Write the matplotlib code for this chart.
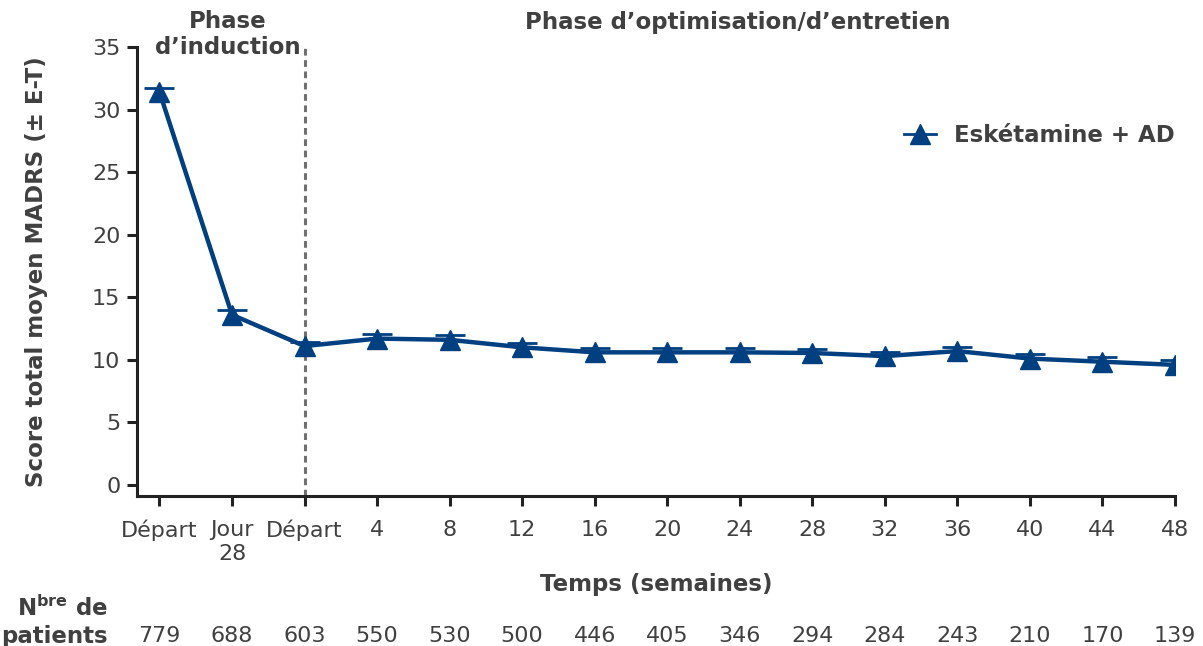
import matplotlib
matplotlib.use("Agg")
import matplotlib.pyplot as plt
import matplotlib.transforms as mtransforms
from matplotlib.lines import Line2D

plt.rcParams['font.family'] = ['DejaVu Sans']
plt.rcParams['mathtext.fontset'] = 'dejavusans'

categories = ["Départ", "Jour\n28", "Départ", "4", "8", "12", "16", "20", "24",
              "28", "32", "36", "40", "44", "48"]
mean_madrs = [31.4, 13.6, 11.1, 11.7, 11.6, 11.0, 10.6, 10.6, 10.6, 10.55,
              10.3, 10.7, 10.1, 9.85, 9.6]
se_madrs = [0.35, 0.4, 0.35, 0.4, 0.35, 0.35, 0.35, 0.35, 0.35, 0.35,
            0.35, 0.35, 0.35, 0.35, 0.35]
n_patients = ["779", "688", "603", "550", "530", "500", "446", "405", "346",
              "294", "284", "243", "210", "170", "139"]
yticks = [0, 5, 10, 15, 20, 25, 30, 35]

TXT = '#404040'
BLUE = '#004080'
FS = 16
FSB = 16.5

fig = plt.figure(figsize=(12.03, 6.46), dpi=100)
ax = fig.add_axes([137/1203, 1-496/646, (1175-137)/1203, (496-47)/646])

x = list(range(len(categories)))
lower = [0] * len(se_madrs)
eb = ax.errorbar(x, mean_madrs, yerr=[lower, se_madrs], color=BLUE, lw=3.2,
                 marker='^', markersize=15, capsize=10.5, capthick=2,
                 elinewidth=2, zorder=3)
caplines = eb[1]
if len(caplines) == 2:
    caplines[0].set_visible(False)

ax.set_xlim(-0.31, 14)
ax.set_ylim(-0.88, 35)
ax.set_yticks(yticks)
ax.set_xticks(x)
ax.set_xticklabels(categories, linespacing=1.3)
for s in ['top', 'right']:
    ax.spines[s].set_visible(False)
for s in ['left', 'bottom']:
    ax.spines[s].set_linewidth(2.2)
    ax.spines[s].set_color('#222222')
ax.tick_params(axis='both', length=7, width=2.2, color='#222222',
               labelsize=FS, labelcolor=TXT)
ax.tick_params(axis='y', pad=5)
ax.tick_params(axis='x', pad=10)

ax.axvline(2, color='#707070', lw=2.2, ls=(0, (2.2, 1.5)), zorder=1,
           clip_on=False)

ax.set_ylabel("Score total moyen MADRS (± E-T)", fontsize=FSB,
              fontweight='bold', color=TXT, labelpad=32)
ax.set_xlabel("Temps (semaines)", fontsize=FSB, fontweight='bold', color=TXT,
              labelpad=6)

handle = Line2D([], [], color=BLUE, lw=2, marker='^', markersize=15)
leg = ax.legend([handle], ["Eskétamine + AD"], loc='upper right',
                bbox_to_anchor=(1.02, 0.875), frameon=False, fontsize=FSB,
                handlelength=1.4, handletextpad=0.8)
for t in leg.get_texts():
    t.set_fontweight('bold')
    t.set_color(TXT)

# Phase headers
trans = mtransforms.blended_transform_factory(ax.transData, fig.transFigure)
fig.text(228/1203, 1-22/646, "Phase", ha='center', va='center', fontsize=FSB,
         fontweight='bold', color=TXT)
fig.text(228/1203, 1-47/646, "d\u2019induction", ha='center', va='center',
         fontsize=FSB, fontweight='bold', color=TXT)
fig.text(738/1203, 1-22/646, "Phase d\u2019optimisation/d\u2019entretien",
         ha='center', va='center', fontsize=FSB, fontweight='bold', color=TXT)

# Patients row
for i, n in enumerate(n_patients):
    ax.text(i, 1-636/646, n, transform=trans, ha='center', va='center',
            fontsize=FS, color=TXT)
fig.text(108/1203, 1-608/646, r"N$^{\mathbf{bre}}$ de", ha='right',
         va='center', fontsize=FSB, fontweight='bold', color=TXT)
fig.text(108/1203, 1-636/646, "patients", ha='right', va='center',
         fontsize=FSB, fontweight='bold', color=TXT)

fig.savefig("out.png", dpi=100)
